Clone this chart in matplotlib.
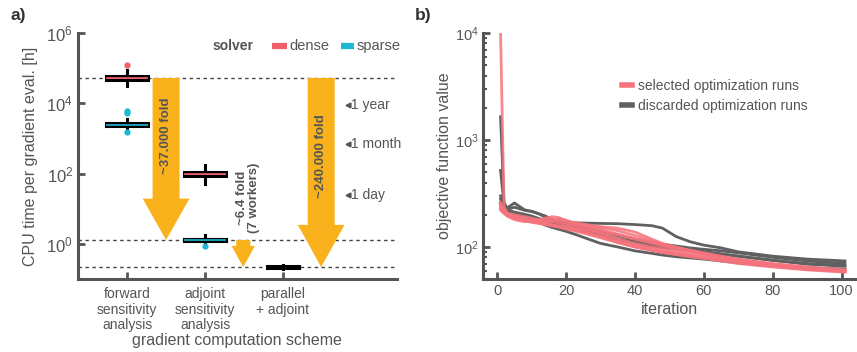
import matplotlib
matplotlib.use("Agg")
import matplotlib.pyplot as plt
from matplotlib.lines import Line2D
import numpy as np

plt.rcParams['font.family'] = ['Liberation Sans', 'DejaVu Sans']
plt.rcParams['mathtext.fontset'] = 'custom'
plt.rcParams['mathtext.rm'] = 'Liberation Sans'
plt.rcParams['mathtext.it'] = 'Liberation Sans:italic'
plt.rcParams['mathtext.bf'] = 'Liberation Sans:bold'

# ---------------- data: panel a ----------------
schemes = ["forward\nsensitivity\nanalysis", "adjoint\nsensitivity\nanalysis", "parallel\n+ adjoint"]
solvers = ["dense", "sparse"]
# box statistics (hours): med, q1, q3, whislo, whishi
box_pos = [1, 1, 2, 2, 3]
box_solver = ["dense", "sparse", "dense", "sparse", "sparse"]
box_med = [5.3e4, 2.5e3, 100, 1.3, 0.22]
box_q1 = [4.7e4, 2.25e3, 88, 1.22, 0.21]
box_q3 = [6.0e4, 2.8e3, 115, 1.4, 0.232]
box_lo = [3.2e4, 1.8e3, 52, 1.05, 0.19]
box_hi = [9.0e4, 3.6e3, 180, 1.75, 0.26]
box_fliers = [[1.25e5], [5.9e3, 5.3e3, 1.5e3], [], [0.87], []]
box_width = [0.54, 0.54, 0.54, 0.54, 0.42]

time_labels = ["1 year", "1 month", "1 day"]
time_hours = [8760, 720, 24]

fold_labels = ["~37.000 fold", "~6.4 fold\n(7 workers)", "~240.000 fold"]

# ---------------- data: panel b ----------------
iters = [1, 2, 3, 5, 8, 10, 12, 14, 16, 18, 20, 23, 26, 30, 35, 40, 45, 48, 52, 56, 60, 65, 70, 80, 90, 101]
discarded = [
    [1650, 260, 225, 235, 220, 215, 205, 190, 180, 172, 170, 168, 167, 166, 165, 162, 158, 150, 125, 112, 104, 98, 90, 82, 77, 74],
    [520, 250, 232, 258, 222, 215, 205, 195, 180, 172, 165, 158, 150, 140, 128, 118, 110, 106, 102, 98, 95, 92, 88, 80, 74, 70],
    [300, 240, 222, 212, 202, 195, 185, 178, 170, 163, 155, 148, 140, 130, 118, 108, 102, 99, 96, 93, 90, 86, 82, 75, 69, 66],
    [280, 228, 212, 202, 192, 183, 170, 160, 152, 146, 140, 130, 120, 108, 100, 92, 87, 84, 81, 79, 77, 74, 71, 67, 64, 62],
    [260, 232, 218, 208, 196, 188, 180, 172, 165, 160, 152, 144, 138, 130, 120, 112, 105, 101, 97, 93, 90, 86, 82, 75, 70, 67],
]
selected = [
    [10000, 238, 208, 200, 192, 186, 180, 176, 172, 168, 162, 155, 147, 135, 120, 108, 100, 96, 91, 87, 83, 78, 73, 67, 62, 60],
    [260, 220, 202, 196, 186, 180, 178, 185, 192, 188, 175, 168, 162, 152, 142, 128, 114, 106, 98, 92, 87, 81, 76, 69, 64, 60],
    [230, 210, 200, 186, 176, 172, 178, 186, 182, 176, 168, 162, 158, 155, 150, 138, 118, 108, 100, 93, 87, 81, 76, 69, 64, 61],
    [250, 215, 196, 186, 176, 170, 166, 162, 158, 153, 147, 140, 132, 122, 110, 100, 93, 89, 85, 82, 79, 75, 71, 66, 62, 59],
    [220, 205, 194, 180, 172, 178, 174, 168, 162, 158, 154, 150, 146, 140, 130, 118, 108, 102, 96, 91, 86, 80, 75, 68, 63, 60],
    [240, 215, 200, 190, 180, 174, 168, 163, 158, 154, 150, 143, 135, 124, 110, 100, 93, 89, 85, 81, 78, 74, 70, 65, 61, 58],
    [230, 210, 204, 194, 184, 178, 172, 170, 176, 184, 178, 165, 155, 145, 132, 120, 110, 104, 98, 93, 88, 82, 77, 70, 65, 61],
    [250, 220, 200, 188, 178, 172, 168, 164, 160, 156, 152, 145, 138, 128, 116, 104, 96, 92, 88, 84, 80, 76, 72, 66, 62, 59],
]

# ---------------- style ----------------
GRAY = "#555555"
TXT = "#555555"
C_DENSE = "#F0606A"
C_SPARSE = "#1DB9D2"
ORANGE = "#F9B21B"
PINK = "#F5737C"
DGRAY = "#606060"

fig = plt.figure(figsize=(8.57, 3.52), dpi=100)
axa = fig.add_axes([0.091, 0.207, 0.372, 0.699])
axb = fig.add_axes([0.564, 0.207, 0.434, 0.699])

for ax in (axa, axb):
    for s in ("top", "right"):
        ax.spines[s].set_visible(False)
    for s in ("left", "bottom"):
        ax.spines[s].set_linewidth(2.2)
        ax.spines[s].set_color(GRAY)
    ax.tick_params(direction="in", colors=GRAY, labelcolor=TXT, width=2, length=5)

# ---------------- panel a ----------------
axa.set_yscale("log")
axa.set_ylim(1e-1, 1e6)
axa.set_xlim(0.37, 4.46)

# dashed reference lines
for v in (box_med[0], box_med[3], box_med[4]):
    axa.axhline(v, color="#444444", lw=1.0, ls=(0, (2.5, 2.5)), zorder=1)

# arrows
def arrow(ax, xc, top, head_start, tip, shw, hhw):
    xs = [xc - shw, xc + shw, xc + shw, xc + hhw, xc, xc - hhw, xc - shw]
    ys = [top, top, head_start, head_start, tip, head_start, head_start]
    ax.fill(xs, ys, color=ORANGE, lw=0, zorder=2)

arrow(axa, 1.5, box_med[0], 19.5, box_med[3], 0.173, 0.30)
arrow(axa, 2.49, box_med[3], 0.88, box_med[4], 0.09, 0.15)
arrow(axa, 3.49, box_med[0], 3.5, box_med[4], 0.173, 0.30)

axa.text(1.5, 1200, fold_labels[0], rotation=90, ha="center", va="center",
         fontsize=9.5, fontweight="bold", color=TXT, zorder=3)
axa.text(2.555, 20, fold_labels[1], rotation=90, ha="center", va="center",
         fontsize=9.5, fontweight="bold", color=TXT, zorder=3, linespacing=1.0)
axa.text(3.49, 320, fold_labels[2], rotation=90, ha="center", va="center",
         fontsize=9.5, fontweight="bold", color=TXT, zorder=3)

# boxes
for i in range(len(box_med)):
    col = C_DENSE if box_solver[i] == "dense" else C_SPARSE
    if i == 4:
        col = "black"
    stats = [dict(med=box_med[i], q1=box_q1[i], q3=box_q3[i], whislo=box_lo[i],
                  whishi=box_hi[i], fliers=box_fliers[i])]
    axa.bxp(stats, positions=[box_pos[i]], widths=box_width[i], patch_artist=True,
            showcaps=False, manage_ticks=False,
            boxprops=dict(facecolor=col, edgecolor="black", linewidth=2.2),
            medianprops=dict(color=col, linewidth=1.2),
            whiskerprops=dict(color="black", linewidth=2.2),
            flierprops=dict(marker="o", markerfacecolor=col, markeredgecolor="none",
                            markersize=4.5),
            zorder=4)

axa.set_yticks([1e0, 1e2, 1e4, 1e6])
axa.yaxis.set_minor_locator(matplotlib.ticker.NullLocator())
axa.set_xticks([1, 2, 3])
axa.set_xticklabels(schemes, fontsize=10, color=TXT, linespacing=1.1)
axa.tick_params(axis="y", labelsize=12)
axa.tick_params(axis="x", pad=6)
axa.set_xlabel("gradient computation scheme", fontsize=11.5, color=TXT, labelpad=1)
axa.set_ylabel("CPU time per gradient eval. [h]", fontsize=11.5, color=TXT, labelpad=6)

# time markers
for lab, h in zip(time_labels, time_hours):
    axa.plot([3.84], [h], marker="<", color=TXT, markersize=3.5, ls="none", clip_on=False)
    axa.text(3.87, h, lab, va="center", ha="left", fontsize=10, color=TXT)

# legend (manual)
axa.text(0.423, 0.947, "solver", transform=axa.transAxes, fontsize=10,
         fontweight="bold", color=TXT, va="center")
axa.add_line(Line2D([0.610, 0.656], [0.947, 0.947], transform=axa.transAxes,
                    color=C_DENSE, lw=4.5, solid_capstyle="butt"))
axa.text(0.664, 0.947, solvers[0], transform=axa.transAxes, fontsize=10.5,
         color=TXT, va="center")
axa.add_line(Line2D([0.826, 0.866], [0.947, 0.947], transform=axa.transAxes,
                    color=C_SPARSE, lw=4.5, solid_capstyle="butt"))
axa.text(0.874, 0.947, solvers[1], transform=axa.transAxes, fontsize=10.5,
         color=TXT, va="center")

# ---------------- panel b ----------------
axb.set_yscale("log")
for run in discarded:
    axb.plot(iters, run, color=DGRAY, lw=2, zorder=2)
for run in selected:
    axb.plot(iters, run, color=PINK, lw=2, alpha=0.85, zorder=3)
axb.set_ylim(50, 1e4)
axb.set_xlim(-4, 104)
axb.set_xticks([0, 20, 40, 60, 80, 100])
axb.tick_params(axis="both", labelsize=10.5)
axb.tick_params(which="minor", direction="in", colors=GRAY, width=1.5, length=3)
axb.set_xlabel("iteration", fontsize=11.5, color=TXT, labelpad=3)
axb.set_ylabel("objective function value", fontsize=11.5, color=TXT, labelpad=2)

h = [Line2D([], [], color=PINK, lw=4), Line2D([], [], color=DGRAY, lw=4)]
axb.legend(h, ["selected optimization runs", "discarded optimization runs"],
           loc="upper left", bbox_to_anchor=(0.34, 0.865), frameon=False,
           fontsize=10, handlelength=0.7, handletextpad=0.4, labelspacing=0.45,
           labelcolor=TXT)

fig.text(0.012, 0.955, "a)", fontsize=12.5, fontweight="bold", color="#333333", va="center")
fig.text(0.484, 0.955, "b)", fontsize=12.5, fontweight="bold", color="#333333", va="center")

fig.savefig("out.png", dpi=100)
